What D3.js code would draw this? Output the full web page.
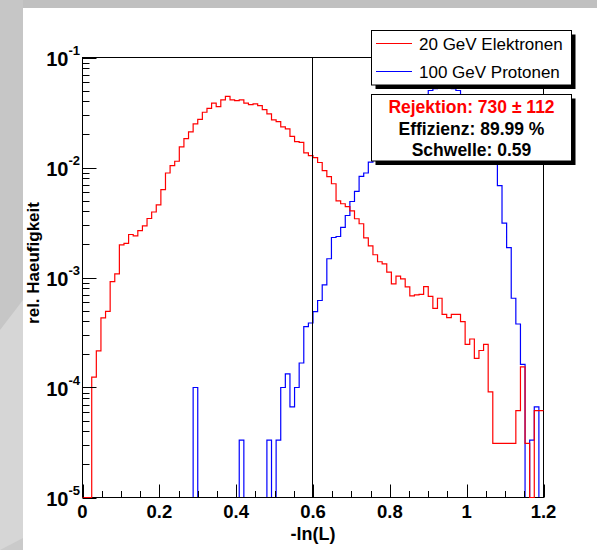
<!DOCTYPE html>
<html><head><meta charset="utf-8">
<script src="https://cdn.jsdelivr.net/npm/d3@7"></script>
<style>body{margin:0;background:#fff}svg{display:block}</style>
</head><body><svg id="c" width="597" height="550"></svg>
<script>
// ---- data ----
const xMin = 0, xMax = 1.2, nBins = 100;
const electrons = [0,0,1.24e-4,2.15e-4,4.29e-4,4.93e-4,9.18e-4,1.08e-3,1.98e-3,2.04e-3,
2.46e-3,2.39e-3,2.67e-3,2.95e-3,3.44e-3,3.94e-3,4.58e-3,6.28e-3,8.91e-3,1.04e-2,
1.14e-2,1.54e-2,1.83e-2,2.11e-2,2.49e-2,2.74e-2,3.18e-2,3.45e-2,3.84e-2,3.58e-2,
4.12e-2,4.44e-2,4.12e-2,4.06e-2,4.12e-2,3.84e-2,3.73e-2,3.79e-2,3.65e-2,3.36e-2,
3.07e-2,2.71e-2,2.61e-2,2.34e-2,2.24e-2,1.92e-2,1.72e-2,1.69e-2,1.36e-2,1.28e-2,
1.23e-2,1.11e-2,9.35e-3,8.25e-3,7.12e-3,4.98e-3,4.68e-3,4.40e-3,4.04e-3,3.42e-3,
3.08e-3,2.29e-3,1.94e-3,1.61e-3,1.39e-3,1.33e-3,1.12e-3,8.74e-4,1.03e-3,9.71e-4,
8.21e-4,6.80e-4,6.94e-4,7.01e-4,8.26e-4,6.73e-4,5.25e-4,6.48e-4,4.63e-4,4.31e-4,
4.63e-4,4.63e-4,3.97e-4,2.47e-4,2.76e-4,1.84e-4,2.17e-4,2.47e-4,9.14e-5,3.10e-5,
3.10e-5,3.10e-5,3.10e-5,3.10e-5,6.16e-5,1.54e-4,3.10e-5,0,6.16e-5,6.16e-5];
const protons = [0,0,0,0,0,0,0,0,0,0,
0,0,0,0,0,0,0,0,0,0,
0,0,0,0,1.0e-4,0,0,0,0,0,
0,0,0,0,3.33e-5,0,0,0,0,0,
3.33e-5,0,3.33e-5,1.0e-4,1.33e-4,6.67e-5,1.0e-4,1.67e-4,3.57e-4,3.86e-4,
4.89e-4,6.18e-4,8.56e-4,1.48e-3,2.31e-3,2.36e-3,2.85e-3,3.66e-3,4.91e-3,6.06e-3,
8.30e-3,8.91e-3,1.12e-2,1.45e-2,1.79e-2,2.07e-2,2.45e-2,2.84e-2,3.22e-2,3.50e-2,
3.81e-2,4.06e-2,4.32e-2,4.41e-2,4.51e-2,5.01e-2,5.22e-2,5.33e-2,5.44e-2,5.44e-2,
5.22e-2,5.01e-2,4.41e-2,3.97e-2,3.50e-2,3.03e-2,2.61e-2,2.12e-2,1.61e-2,1.18e-2,
6.83e-3,3.12e-3,1.87e-3,6.48e-4,3.78e-4,1.62e-4,0,3.33e-5,6.67e-5,0];
const xTicks = [0,0.2,0.4,0.6,0.8,1,1.2];
const xTickLabels = ["0","0.2","0.4","0.6","0.8","1","1.2"];
const yDecades = [-5,-4,-3,-2,-1];
const legendLabels = ["20 GeV Elektronen","100 GeV Protonen"];
const seriesColors = ["#ff0000","#0000ff"];
const statLines = ["Rejektion: 730 \u00b1 112","Effizienz: 89.99 %","Schwelle: 0.59"];
const statColors = ["#ff0000","#000000","#000000"];
const threshold = 0.597;
const xTitle = "-ln(L)", yTitle = "rel. Haeufigkeit";

// ---- layout ----
const svg = d3.select("#c");
const FONT = "Liberation Sans, Arial, Helvetica, sans-serif";
const L = 82.5, R = 543.5, T = 57.5, B = 497.5;
const x = d3.scaleLinear().domain([xMin, xMax]).range([L, R]);
const y = d3.scaleLog().domain([1e-5, 1e-1]).range([B, T]);

// background
svg.append("rect").attr("width",597).attr("height",550).attr("fill","#ffffff");
svg.append("rect").attr("x",0).attr("y",0).attr("width",597).attr("height",8).attr("fill","#c0c0c0");
svg.append("rect").attr("x",0).attr("y",0).attr("width",23).attr("height",550).attr("fill","#c6c6c6");
svg.append("path").attr("d","M0,330 L23,300 L23,550 L0,550 Z").attr("fill","#d6d6d6");
svg.append("path").attr("d","M0,550 L23,538 L23,550 Z").attr("fill","#cacaca");

const binW = (xMax - xMin) / nBins;
function histPoints(vals){
  const pts = [];
  vals.forEach((v,i)=>{
    const yy = v > 0 ? y(v) : B;
    pts.push([x(xMin + i*binW), yy]);
    pts.push([x(xMin + (i+1)*binW), yy]);
  });
  return pts;
}
const line = d3.line();

svg.append("path").attr("d", line(histPoints(protons)))
  .attr("fill","none").attr("stroke",seriesColors[1]).attr("stroke-width",1.2);

svg.append("rect").attr("x",L).attr("y",T).attr("width",R-L).attr("height",B-T)
  .attr("fill","none").attr("stroke","#000").attr("stroke-width",1);

svg.append("path").attr("d", line(histPoints(electrons)))
  .attr("fill","none").attr("stroke",seriesColors[0]).attr("stroke-width",1.2);

// threshold line
const tx = Math.round(x(threshold))+0.5;
svg.append("line").attr("x1",tx).attr("x2",tx).attr("y1",T).attr("y2",B)
  .attr("stroke","#000").attr("stroke-width",1);

// x ticks
const xMinor = d3.range(0, 1.2001, 0.05);
const gx = svg.append("g");
xMinor.forEach(t=>{
  const major = Math.abs(Math.round(t/0.2)*0.2 - t) < 1e-6;
  const px = Math.round(x(t)) + 0.5;
  gx.append("line").attr("x1",px).attr("x2",px).attr("y1",B).attr("y2",B-(major?13:6.5))
    .attr("stroke","#000").attr("stroke-width",1);
});
xTicks.forEach((t,i)=>{
  gx.append("text").attr("x",x(t)).attr("y",517.5).attr("text-anchor","middle")
    .attr("font-family",FONT).attr("font-weight","bold")
    .attr("font-size",18.5).attr("fill","#000").text(xTickLabels[i]);
});

// y ticks
const gy = svg.append("g");
yDecades.forEach((d,i)=>{
  const py = Math.round(y(Math.pow(10,d))) + 0.5;
  gy.append("line").attr("x1",L).attr("x2",L+14).attr("y1",py).attr("y2",py).attr("stroke","#000");
  if (i < yDecades.length-1){
    for(let m=2;m<=9;m++){
      const pm = Math.round(y(m*Math.pow(10,d))) + 0.5;
      gy.append("line").attr("x1",L).attr("x2",L+7).attr("y1",pm).attr("y2",pm).attr("stroke","#000");
    }
  }
  const t = gy.append("text").attr("x",80).attr("y",y(Math.pow(10,d))+8)
    .attr("text-anchor","end").attr("font-family",FONT)
    .attr("font-weight","bold").attr("fill","#000");
  t.append("tspan").attr("font-size",20).text("10");
  t.append("tspan").attr("font-size",13).attr("dy",-11).text(String(d));
});

// axis titles
svg.append("text").attr("x",(L+R)/2).attr("y",540).attr("text-anchor","middle")
  .attr("font-family",FONT).attr("font-weight","bold")
  .attr("font-size",18).text(xTitle);
svg.append("text").attr("transform","translate(39,263) rotate(-90)").attr("text-anchor","middle")
  .attr("font-family",FONT).attr("font-weight","bold")
  .attr("font-size",17).text(yTitle);

// legend & stats boxes
function box(x0,y0,w,h){
  svg.append("rect").attr("x",x0+4).attr("y",y0+4).attr("width",w).attr("height",h).attr("fill","#000");
  svg.append("rect").attr("x",x0).attr("y",y0).attr("width",w).attr("height",h)
    .attr("fill","#fff").attr("stroke","#000").attr("stroke-width",1);
}
box(371.5,30.5,200,54.5);
legendLabels.forEach((lab,i)=>{
  const yy = 43.5 + i*28;
  svg.append("line").attr("x1",376).attr("x2",412).attr("y1",yy).attr("y2",yy)
    .attr("stroke",seriesColors[i]).attr("stroke-width",1.2);
  svg.append("text").attr("x",419).attr("y",yy+6).attr("font-family",FONT)
    .attr("font-size",17).attr("fill","#000").text(lab);
});
box(371.5,94.5,200,66.5);
statLines.forEach((s,i)=>{
  svg.append("text").attr("x",471.5).attr("y",113+i*21.5).attr("text-anchor","middle")
    .attr("font-family",FONT).attr("font-weight","bold")
    .attr("font-size",17.5).attr("fill",statColors[i]).text(s);
});
</script></body></html>
